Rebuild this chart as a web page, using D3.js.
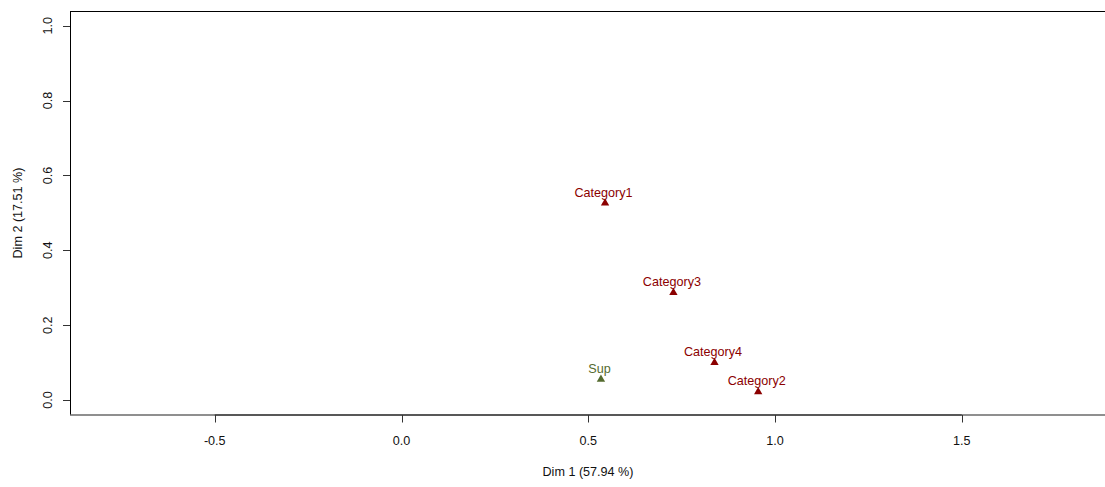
<!DOCTYPE html>
<html>
<head>
<meta charset="utf-8">
<script src="https://cdn.jsdelivr.net/npm/d3@7"></script>
<style>
  html, body { margin: 0; padding: 0; background: #fff; }
  svg { display: block; }
  text { font-family: "Liberation Sans", Arial, sans-serif; }
</style>
</head>
<body>
<svg id="chart" width="1105" height="487"></svg>
<script>
// Category coordinates on the first two dimensions
const categories = ["Category1", "Category3", "Category4", "Category2"];
const dim1 = [0.545, 0.728, 0.838, 0.955];
const dim2 = [0.526, 0.287, 0.100, 0.022];

// Supplementary point
const supLabels = ["Sup"];
const supDim1 = [0.534];
const supDim2 = [0.055];

const xTicks = [-0.5, 0.0, 0.5, 1.0, 1.5];
const yTicks = [0.0, 0.2, 0.4, 0.6, 0.8, 1.0];
const xTitle = "Dim 1 (57.94 %)";
const yTitle = "Dim 2 (17.51 %)";

const plot = { left: 70, top: 11.5, right: 1112, bottom: 415 };

const x = d3.scaleLinear().domain([0, 1]).range([401.5, 775]);
const y = d3.scaleLinear().domain([0, 1]).range([400, 25.7]);

const svg = d3.select("#chart");
// plain hyphen for negative numbers
const fmt = v => d3.format(".1f")(v).replace("\u2212", "-");
const fontSize = 12.6;

// plot frame
svg.append("line").attr("x1", plot.left + 0.5).attr("x2", plot.left + 0.5)
  .attr("y1", plot.top).attr("y2", plot.bottom).attr("stroke", "#000");
svg.append("line").attr("x1", plot.left).attr("x2", plot.right)
  .attr("y1", plot.top).attr("y2", plot.top).attr("stroke", "#000");
svg.append("line").attr("x1", plot.left).attr("x2", plot.right)
  .attr("y1", plot.bottom).attr("y2", plot.bottom)
  .attr("stroke", "#6a6a6a").attr("stroke-width", 1.4);

// x axis
const xAxis = svg.append("g");
xAxis.append("line")
  .attr("x1", x(xTicks[0])).attr("x2", x(xTicks[xTicks.length - 1]))
  .attr("y1", plot.bottom).attr("y2", plot.bottom)
  .attr("stroke", "#222").attr("stroke-width", 1.2);
xAxis.selectAll("line.tick").data(xTicks).join("line")
  .attr("class", "tick")
  .attr("x1", d => Math.round(x(d)) + 0.5).attr("x2", d => Math.round(x(d)) + 0.5)
  .attr("y1", plot.bottom).attr("y2", plot.bottom + 7.5)
  .attr("stroke", "#333");
xAxis.selectAll("text").data(xTicks).join("text")
  .attr("x", d => x(d)).attr("y", 444.5)
  .attr("text-anchor", "middle").attr("font-size", fontSize).attr("fill", "#111")
  .text(d => fmt(d));

// y axis
const yAxis = svg.append("g");
yAxis.selectAll("line.tick").data(yTicks).join("line")
  .attr("class", "tick")
  .attr("x1", plot.left - 7).attr("x2", plot.left)
  .attr("y1", d => Math.round(y(d)) + 0.5).attr("y2", d => Math.round(y(d)) + 0.5)
  .attr("stroke", "#333");
yAxis.selectAll("text").data(yTicks).join("text")
  .attr("transform", d => `translate(51.5,${y(d)}) rotate(-90)`)
  .attr("text-anchor", "middle").attr("font-size", fontSize).attr("fill", "#111")
  .text(d => fmt(d));

// axis titles
svg.append("text").attr("x", 588).attr("y", 476)
  .attr("text-anchor", "middle").attr("font-size", fontSize).attr("fill", "#111")
  .text(xTitle);
svg.append("text").attr("transform", `translate(21.5,213) rotate(-90)`)
  .attr("text-anchor", "middle").attr("font-size", fontSize).attr("fill", "#111")
  .text(yTitle);

// points and labels
const tri = d3.symbol(d3.symbolTriangle, 30);
function drawSet(labels, xs, ys, color) {
  const g = svg.append("g");
  const data = labels.map((l, i) => ({ label: l, x: xs[i], y: ys[i] }));
  g.selectAll("path").data(data).join("path")
    .attr("d", tri)
    .attr("transform", d => `translate(${x(d.x)},${y(d.y)})`)
    .attr("fill", color);
  g.selectAll("text").data(data).join("text")
    .attr("x", d => x(d.x) - 1.5).attr("y", d => y(d.y) - 6.5)
    .attr("text-anchor", "middle").attr("font-size", fontSize).attr("fill", color)
    .text(d => d.label);
}
drawSet(categories, dim1, dim2, "#8B0000");
drawSet(supLabels, supDim1, supDim2, "#556B2F");
</script>
</body>
</html>
